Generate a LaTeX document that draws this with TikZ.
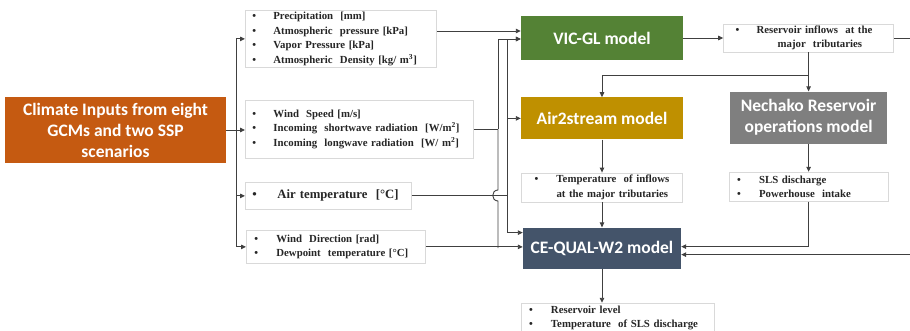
\documentclass[tikz,border=0pt]{standalone}
\usepackage{fontspec}
\setmainfont{Liberation Serif}
\newfontfamily\modelfont{Carlito}
\usetikzlibrary{positioning,arrows.meta}

\definecolor{climateorange}{HTML}{C55A11}
\definecolor{vicgreen}{HTML}{548235}
\definecolor{airgold}{HTML}{BF9000}
\definecolor{nechakogray}{HTML}{7F7F7F}
\definecolor{cegray}{HTML}{44546A}
\definecolor{boxgray}{HTML}{D9D9D9}
\definecolor{inkgray}{HTML}{262626}
\definecolor{linegray}{HTML}{404040}

\newcommand{\itm}[1][21pt]{\makebox[#1][l]{\textbullet}}

\begin{document}
\begin{tikzpicture}[
    x=1pt, y=-1pt,
    listbox/.style={draw=boxgray, line width=0.8pt, fill=white, align=left, text=inkgray, font=\fontsize{10.8}{14.5}\selectfont\bfseries, inner xsep=7pt, inner ysep=0pt},
    model/.style={align=center, text=white, font=\modelfont\bfseries\fontsize{17.5}{21}\selectfont, inner sep=0pt},
    wire/.style={draw=linegray, line width=0.9pt},
    flow/.style={wire, ->},
    >={Stealth[length=5pt,width=4.5pt,inset=0pt]}
  ]
    \useasboundingbox (0,0) rectangle (910,331);

    % inputs
    \node[model, fill=climateorange, minimum width=221pt, minimum height=66pt] (climate) at (115.5,130) {Climate Inputs from eight\\GCMs and two SSP\\scenarios};
    \node[listbox, anchor=north west, text width=177pt, minimum height=57pt] (precip) at (245,10) {\itm Precipitation~ [mm]\\\itm Atmospheric~ pressure [kPa]\\\itm Vapor Pressure [kPa]\\\itm Atmospheric~ Density [kg/ m\textsuperscript{3}]};
    \node[listbox, anchor=north west, text width=214pt, minimum height=58pt] (wind) at (245,100) {\itm Wind~ Speed [m/s]\\\itm Incoming~ shortwave radiation~ [W/m\textsuperscript{2}]\\\itm Incoming~ longwave radiation~ [W/ m\textsuperscript{2}]};
    \node[listbox, anchor=north west, text width=152pt, minimum height=27pt, font=\fontsize{12.7}{14.5}\selectfont\bfseries] (air) at (245,182) {\itm[25pt]Air temperature~ [°C]};
    \node[listbox, anchor=north west, text width=163pt, minimum height=33pt, inner xsep=8pt] (dew) at (246,230) {\itm[22pt]Wind~ Direction [rad]\\\itm[22pt]Dewpoint~ temperature [°C]};

    % models
    \node[model, fill=vicgreen, minimum width=162pt, minimum height=44pt] (vic) at (602,38) {VIC-GL model};
    \node[model, fill=airgold, minimum width=162pt, minimum height=42pt, below=37pt of vic] (air2) {Air2stream model};
    \node[listbox, right=40pt of vic, text width=146pt, inner xsep=12pt, minimum height=28pt] (inflow) {\itm Reservoir inflows~ at the\\\hspace*{42pt}major~ tributaries};
    \node[model, fill=nechakogray, minimum width=157pt, minimum height=52pt, below=39pt of inflow] (nechako) {Nechako Reservoir\\operations model};
    \node[listbox, below=33pt of air2, text width=139pt, inner xsep=11pt, minimum height=29pt] (tempin) {\mbox{\hspace*{2pt}\itm[22pt]Temperature~ of inflows}\\\mbox{\hspace*{24pt}at the major tributaries}};
    \node[listbox, below=28pt of nechako, text width=143pt, inner xsep=8pt, minimum height=29pt] (sls) {\itm[22pt]SLS discharge\\\itm[22pt]Powerhouse~ intake};
    \node[model, fill=cegray, minimum width=158pt, minimum height=41pt, below=25pt of tempin] (ce) {CE-QUAL-W2 model};
    \node[listbox, below=34pt of ce, xshift=15.5pt, text width=177pt, inner xsep=8pt, minimum height=29pt] (output) {\itm[22pt]Reservoir level\\\itm[22pt]Temperature~ of SLS discharge};

    % entry points
    \coordinate (split) at (236,130);
    \coordinate (busA) at (498,0);
    \coordinate (busB) at (507,0);
    \coordinate (hopT) at (498,190);
    \coordinate (hopB) at (498,201);
    \coordinate (vicA) at ([yshift=7pt]vic.west);
    \coordinate (vicB) at ([yshift=-1pt]vic.west);
    \coordinate (ceA) at ([yshift=15.5pt]ce.west);
    \coordinate (ceC) at ([yshift=1.5pt]ce.east);
    \coordinate (ceD) at ([yshift=-6.5pt]ce.east);
    \coordinate (edgeA) at (910,38);
    \coordinate (edgeB) at (ceD -| edgeA);
    \coordinate (fork) at (808,75);

    % climate inputs
    \draw[wire] (climate.east) -- (split);
    \draw[flow] (split) |- (precip.west);
    \draw[flow] (split) -- (split -| wind.west);
    \draw[flow] (split) |- (air.west);
    \draw[flow] (split) |- (dew.west);

    % inputs to models
    \draw[flow] (vicA -| precip.east) -- (vicA);
    \draw[wire] (wind.east) -- (wind.east -| busA);
    \draw[flow] (wind.east -| busA) |- (vicB);
    \draw[wire] (wind.east -| busA) -- (hopT) .. controls +(-7,0) and +(-7,0) .. (hopB) -- (ce.west -| busA);
    \draw[wire] (air.east) -- (air.east -| busB);
    \draw[flow] (air.east -| busB) |- (vicB);
    \draw[flow] (air.east -| busB) |- (ceA);
    \draw[flow] (busB |- air2.west) -- (air2.west);
    \draw[flow] (dew.east) -- (dew.east -| ce.west);

    % model chain
    \draw[flow] (vic.east) -- (vic.east -| inflow.west);
    \draw[wire] (inflow.east) -- (inflow.east -| edgeA);
    \draw[flow] (inflow.south) -- (nechako.north);
    \draw[flow] (inflow.south |- fork) -| (air2.north);
    \draw[flow] (air2.south) -- (air2.south |- tempin.north);
    \draw[flow] (tempin.south) -- (tempin.south |- ce.north);
    \draw[flow] (nechako.south) -- (sls.north);
    \draw[flow] (sls.south) |- (ceC);
    \draw[flow] (edgeB) -- (ceD);
    \draw[flow] (ce.south) -- (ce.south |- output.north);
\end{tikzpicture}
\end{document}
